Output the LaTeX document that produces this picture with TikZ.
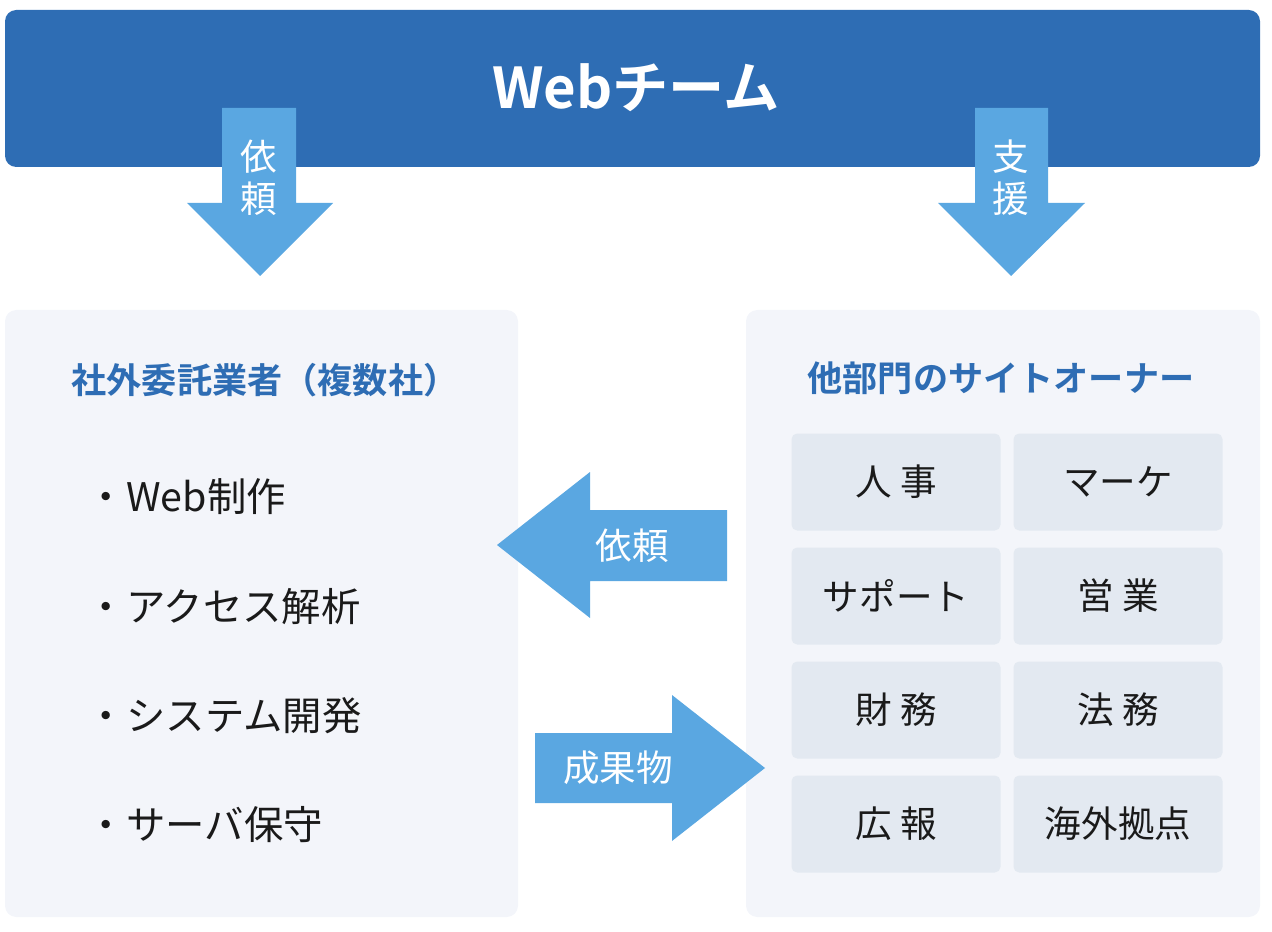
\documentclass[tikz,border=0pt]{standalone}
\usepackage{fontspec}
\setmainfont{Noto Sans CJK JP}
\newfontfamily\jpbold{Noto Sans CJK JP Bold}
\usetikzlibrary{positioning}
\definecolor{teamblue}{HTML}{2E6DB4}
\definecolor{arrowblue}{HTML}{5AA7E1}
\definecolor{panelbg}{HTML}{F3F5FA}
\definecolor{cellbg}{HTML}{E3E9F1}
\definecolor{textdark}{HTML}{1A1A1A}

\tikzset{
  panel/.style={fill=panelbg,rounded corners=8pt,draw=none},
  cell/.style={fill=cellbg,rounded corners=4pt,minimum width=209*0.025cm,minimum height=97*0.025cm,
    font=\fontsize{26}{30}\selectfont,text=textdark},
  paneltitle/.style={font=\jpbold\fontsize{25}{29}\selectfont,text=teamblue},
  item/.style={font=\fontsize{28}{32}\selectfont,text=textdark,anchor=west},
  arrowlabel/.style={font=\fontsize{26}{30}\selectfont,text=white}
}

\begin{document}
\begin{tikzpicture}[x=0.025cm,y=-0.025cm]
    \useasboundingbox (0,0) rectangle (1272,932);

    % Top bar
    \fill[teamblue,rounded corners=8pt] (5,10) rectangle (1260,167);
    \node[font=\jpbold\fontsize{40}{46}\selectfont,text=white] (team) at (636,88) {Webチーム};

    % Down arrows
    \fill[arrowblue] (222,108) -- (296,108) -- (296,203) -- (333,203) -- (260,276)
        -- (187,203) -- (222,203) -- cycle;
    \node[arrowlabel,align=center] (irai1) at (259,178) {依\\頼};
    \fill[arrowblue] (975,108) -- (1048,108) -- (1048,203) -- (1085,203) -- (1011,276)
        -- (938,203) -- (975,203) -- cycle;
    \node[arrowlabel,align=center] (shien) at (1011,178) {支\\援};

    % Panels
    \fill[panel] (5,310) rectangle (518,917);
    \fill[panel] (746,310) rectangle (1260,917);
    \node[paneltitle] (vendor) at (265,380) {社外委託業者（複数社）};
    \node[paneltitle] (owner) at (1001,378) {他部門のサイトオーナー};

    % Vendor tasks
    \node[item] (t1) at (82,497) {・Web制作};
    \node[item] (t2) at (82,607) {・アクセス解析};
    \node[item] (t3) at (82,716) {・システム開発};
    \node[item] (t4) at (82,825) {・サーバ保守};

    % Departments
    \node[cell] (d1) at (896,482) {人 事};
    \node[cell] (d2) at (1118,482) {マーケ};
    \node[cell] (d3) at (896,596) {サポート};
    \node[cell] (d4) at (1118,596) {営 業};
    \node[cell] (d5) at (896,710) {財 務};
    \node[cell] (d6) at (1118,710) {法 務};
    \node[cell] (d7) at (896,824) {広 報};
    \node[cell] (d8) at (1118,824) {海外拠点};

    % Side arrows
    \fill[arrowblue] (497,545) -- (590,472) -- (590,510) -- (727,510) -- (727,581)
        -- (590,581) -- (590,618) -- cycle;
    \node[arrowlabel] (irai2) at (632,546) {依頼};
    \fill[arrowblue] (535,733) -- (672,733) -- (672,695) -- (765,768) -- (672,841)
        -- (672,803) -- (535,803) -- cycle;
    \node[arrowlabel] (seika) at (618,768) {成果物};
\end{tikzpicture}
\end{document}
